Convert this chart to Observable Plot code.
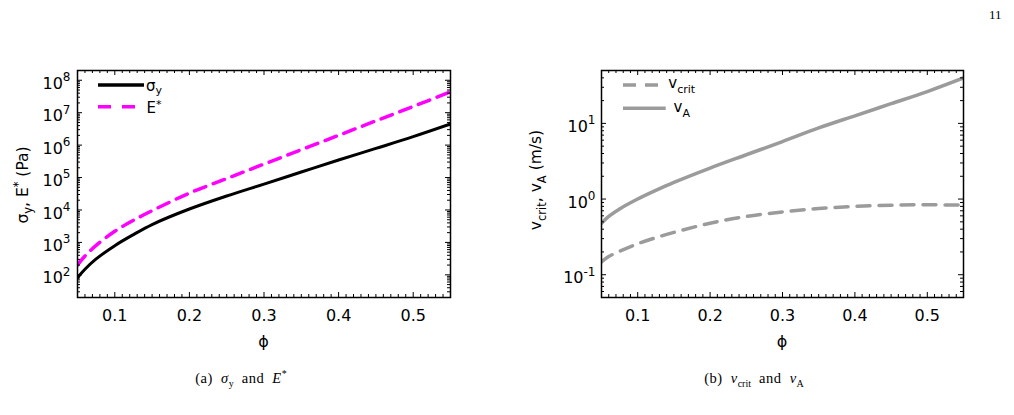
<!DOCTYPE html>
<html>
<head>
<meta charset="utf-8">
<script src="https://cdn.jsdelivr.net/npm/d3@7"></script>
<script src="https://cdn.jsdelivr.net/npm/@observablehq/plot@0.6"></script>
<style>
  body { margin: 0; background: #fff; }
  #page { position: relative; width: 1014px; height: 415px; background: #fff; overflow: hidden; }
  .panel { position: absolute; top: 0; }
  .caption { position: absolute; top: 370px; width: 300px; text-align: center;
    font-family: "Liberation Serif", "DejaVu Serif", serif; font-size: 14.5px; color: #000; line-height: 16px;
    letter-spacing: 0.5px; word-spacing: 4px; }
  .caption sub, .caption sup { font-size: 10px; line-height: 0; letter-spacing: 0; }
  #folio { position: absolute; top: 7px; left: 989px; font-family: "Liberation Serif", serif; font-size: 13px; }
</style>
</head>
<body>
<div id="page">
  <div id="left" class="panel" style="left:0"></div>
  <div id="right" class="panel" style="left:507px"></div>
  <div class="caption" style="left:91px">(a) <i>σ</i><sub>y</sub> and <i>E</i><sup>*</sup></div>
  <div class="caption" style="left:604px">(b) <i>v</i><sub>crit</sub> and <i>v</i><sub>A</sub></div>
  <div id="folio">11</div>
</div>
<script>
// Volume fraction samples
const phi = [0.05, 0.06, 0.075, 0.1, 0.125, 0.15, 0.2, 0.25, 0.3, 0.35, 0.4, 0.45, 0.5, 0.55];
// Yield stress and effective modulus (Pa)
const sigmaY = [81, 148, 309, 794, 1740, 3550, 1.07e4, 2.7e4, 6.3e4, 1.48e5, 3.47e5, 7.9e5, 1.82e6, 4.47e6];
const eStar  = [200, 380, 810, 2200, 4800, 9500, 3.3e4, 9.3e4, 2.6e5, 7.2e5, 2.0e6, 5.6e6, 1.55e7, 4.4e7];
// Critical velocity and wave speed (m/s)
const vCrit = [0.148, 0.174, 0.204, 0.257, 0.309, 0.363, 0.479, 0.589, 0.676, 0.75, 0.80, 0.83, 0.84, 0.83];
const vA    = [0.48, 0.59, 0.74, 1.0, 1.30, 1.66, 2.57, 3.85, 5.75, 8.7, 12.6, 18.2, 26.3, 39.8];

// Axis ticks
const phiTicks = [0.1, 0.2, 0.3, 0.4, 0.5];
const stressTicks = [1e2, 1e3, 1e4, 1e5, 1e6, 1e7, 1e8];
const speedTicks = [0.1, 1, 10];

const W = 507, H = 340, TOP = 70, BOTTOM = 43;
const FONT = '"DejaVu Sans", "Liberation Sans", sans-serif';
const GRAY = "#9b9b9b";

function logMinors(lo, hi) {
  const out = [];
  for (let e = Math.floor(Math.log10(lo)); e <= Math.ceil(Math.log10(hi)); e++)
    for (let m = 2; m <= 9; m++) { const v = m * 10 ** e; if (v > lo && v < hi) out.push(v); }
  return out;
}
const phiMinor = d3.range(6, 55).map(i => i / 100).filter(v => Math.round(v * 100) % 10 !== 0);

// gnuplot-style inward ticks on all four sides of the frame
function frameTicks(yMajor, yMinor, plotW, plotH) {
  const M = 5, m = 3, s = {stroke: "black", strokeWidth: 1};
  return [
    Plot.tickX(phiTicks, {x: d => d, insetTop: plotH - M, ...s}),
    Plot.tickX(phiTicks, {x: d => d, insetBottom: plotH - M, ...s}),
    Plot.tickX(phiMinor, {x: d => d, insetTop: plotH - m, ...s}),
    Plot.tickX(phiMinor, {x: d => d, insetBottom: plotH - m, ...s}),
    Plot.tickY(yMajor, {y: d => d, insetRight: plotW - M, ...s}),
    Plot.tickY(yMajor, {y: d => d, insetLeft: plotW - M, ...s}),
    Plot.tickY(yMinor, {y: d => d, insetRight: plotW - m, ...s}),
    Plot.tickY(yMinor, {y: d => d, insetLeft: plotW - m, ...s})
  ];
}

// Append text made of runs with baseline shifts: [text, shift, fontSize]
function rich(sel, parts) {
  let prev = 0;
  for (const [s, shift = 0, size] of parts) {
    const ts = sel.append("tspan").attr("dy", shift - prev).text(s);
    if (size) ts.attr("font-size", size);
    prev = shift;
  }
  return sel;
}

function exponentLabels(svg) {
  d3.select(svg).selectAll('g[aria-label="y-axis tick label"] text').each(function () {
    const [b, e] = this.textContent.split("^");
    const t = d3.select(this).text(null);
    t.append("tspan").text(b);
    t.append("tspan").attr("dy", -7.7).attr("font-size", 12).text(e);
  });
}

function panel({yDomain, yTicks, yPad, marginLeft, marginRight, series}) {
  const plotW = W - marginLeft - marginRight, plotH = H - TOP - BOTTOM;
  const [lo, hi] = yDomain;
  return Plot.plot({
    width: W, height: H, marginLeft, marginRight, marginTop: TOP, marginBottom: BOTTOM,
    style: {fontFamily: FONT, fontSize: "16px", color: "black", background: "transparent", overflow: "visible"},
    x: {domain: [0.05, 0.55]},
    y: {type: "log", domain: yDomain},
    marks: [
      ...series.map(({values, stroke, dash, width}) =>
        Plot.lineY(values, {x: phi, y: values, stroke, strokeWidth: width, strokeDasharray: dash,
          curve: "catmull-rom", clip: true})),
      ...frameTicks(yTicks, logMinors(lo, hi), plotW, plotH),
      Plot.frame({stroke: "black", strokeWidth: 1.5}),
      Plot.axisX(phiTicks, {tickSize: 0, tickPadding: 12, tickFormat: d3.format(".1f"), label: null, fontSize: 16}),
      Plot.axisY(yTicks, {tickSize: 0, tickPadding: yPad, dy: 3.4, label: null, fontSize: 16,
        tickFormat: d => "10^" + Math.round(Math.log10(d))})
    ]
  });
}

// (a) stresses
const left = panel({
  yDomain: [20, 2e8], yTicks: stressTicks, yPad: 7, marginLeft: 77, marginRight: 57,
  series: [
    {values: sigmaY, stroke: "black", width: 3},
    {values: eStar, stroke: "#ff00ff", width: 3.5, dash: "12,8"}
  ]
});
// (b) velocities
const right = panel({
  yDomain: [0.05, 50], yTicks: speedTicks, yPad: 6, marginLeft: 94, marginRight: 51,
  series: [
    {values: vCrit, stroke: GRAY, width: 3.5, dash: "13,9"},
    {values: vA, stroke: GRAY, width: 3.5}
  ]
});
exponentLabels(left);
exponentLabels(right);

function decorate(svg, {titleX, titleY, title, phiX, legend}) {
  const g = d3.select(svg).append("g").attr("font-family", FONT).attr("fill", "black");
  rich(g.append("text").attr("font-size", 15.5).attr("text-anchor", "middle")
    .attr("transform", `translate(${titleX},${titleY}) rotate(-90)`), title);
  g.append("text").attr("font-size", 16).attr("text-anchor", "middle")
    .attr("x", phiX).attr("y", 347).text("ϕ");
  for (const {x1, x2, y, stroke, dash, label, ty} of legend) {
    g.append("line").attr("x1", x1).attr("x2", x2).attr("y1", y).attr("y2", y)
      .attr("stroke", stroke).attr("stroke-width", 3.5).attr("stroke-dasharray", dash || null);
    rich(g.append("text").attr("font-size", 15).attr("x", x2 + 10 + (label.gap || 0)).attr("y", ty), label.parts);
  }
}

decorate(left, {
  titleX: 28, titleY: 185, phiX: 263.5,
  title: [["σ"], ["y", 4, 11.5], [", E", 0], ["*", -6, 11.5], [" (Pa)", 0]],
  legend: [
    {x1: 98, x2: 144, y: 85, stroke: "black", ty: 90.5, label: {parts: [["σ"], ["y", 3, 11]]}},
    {x1: 98, x2: 144, y: 106.7, stroke: "#ff00ff", dash: "13,11", ty: 112.7, label: {parts: [["E"], ["*", -5, 11]]}}
  ]
});
decorate(right, {
  titleX: 34, titleY: 180, phiX: 275,
  title: [["v"], ["crit", 5, 11.5], [", v", 0], ["A", 5, 11.5], [" (m/s)", 0]],
  legend: [
    {x1: 116, x2: 158.7, y: 85, stroke: GRAY, dash: "13,9", ty: 88.3, label: {gap: 6, parts: [["v"], ["crit", 5, 11]]}},
    {x1: 116, x2: 158.7, y: 108.3, stroke: GRAY, ty: 111.7, label: {gap: 6, parts: [["v"], ["A", 5, 11]]}}
  ]
});

document.getElementById("left").append(left);
document.getElementById("right").append(right);
</script>
</body>
</html>
